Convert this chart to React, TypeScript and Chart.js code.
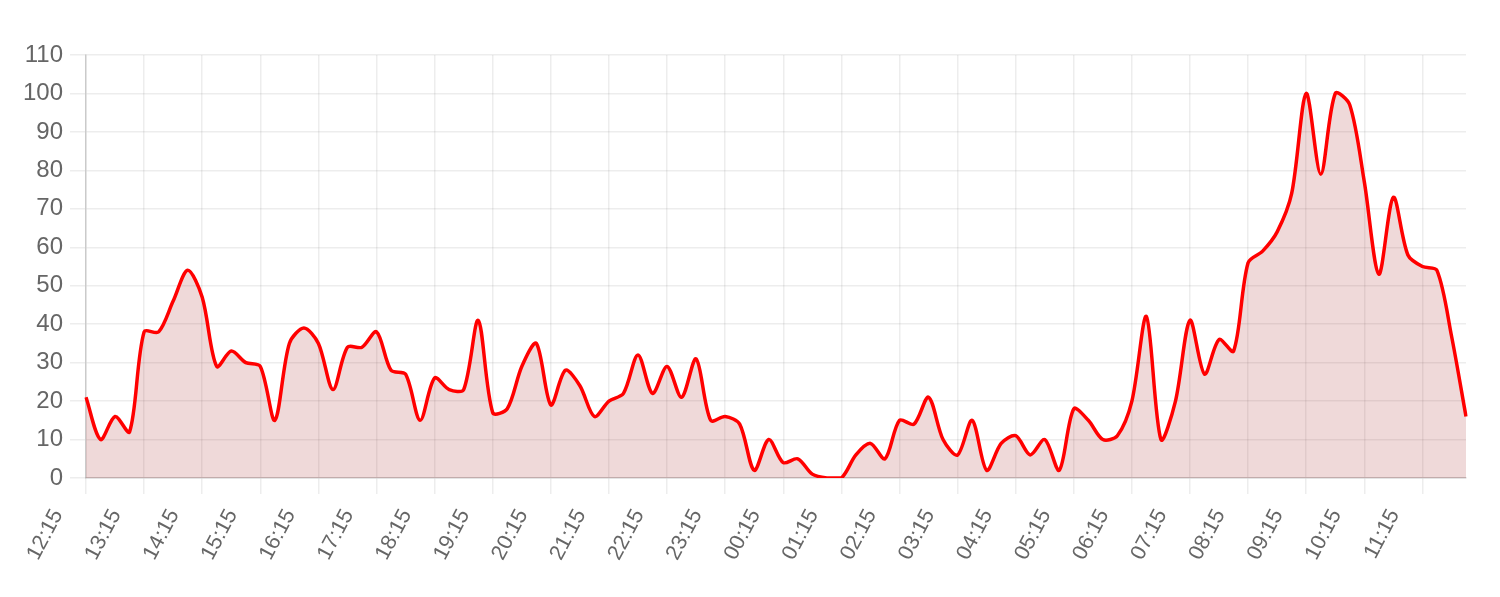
import React, { useEffect, useRef } from "react";
import { Chart, registerables } from "chart.js";

Chart.register(...registerables);

const timeLabels: string[] = [
  "12:15","12:30","12:45","13:00","13:15","13:30","13:45","14:00",
  "14:15","14:30","14:45","15:00","15:15","15:30","15:45","16:00",
  "16:15","16:30","16:45","17:00","17:15","17:30","17:45","18:00",
  "18:15","18:30","18:45","19:00","19:15","19:30","19:45","20:00",
  "20:15","20:30","20:45","21:00","21:15","21:30","21:45","22:00",
  "22:15","22:30","22:45","23:00","23:15","23:30","23:45","00:00",
  "00:15","00:30","00:45","01:00","01:15","01:30","01:45","02:00",
  "02:15","02:30","02:45","03:00","03:15","03:30","03:45","04:00",
  "04:15","04:30","04:45","05:00","05:15","05:30","05:45","06:00",
  "06:15","06:30","06:45","07:00","07:15","07:30","07:45","08:00",
  "08:15","08:30","08:45","09:00","09:15","09:30","09:45","10:00",
  "10:15","10:30","10:45","11:00","11:15","11:30","11:45","12:00",
];

const values: number[] = [
  21, 10, 16, 12, 38, 38, 46, 54,
  47, 29, 33, 30, 29, 15, 35, 39,
  35, 23, 34, 34, 38, 28, 27, 15,
  26, 23, 23, 41, 17, 18, 29, 35,
  19, 28, 24, 16, 20, 22, 32, 22,
  29, 21, 31, 15, 16, 14, 2, 10,
  4, 5, 1, 0, 0, 6, 9, 5,
  15, 14, 21, 10, 6, 15, 2, 9,
  11, 6, 10, 2, 18, 15, 10, 11,
  20, 42, 10, 20, 41, 27, 36, 33,
  56, 59, 64, 74, 100, 79, 100, 97,
  77, 53, 73, 58, 55, 54, 37, 16,
];

const yMin = 0;
const yMax = 110;
const yStep = 10;
const labelEvery = 4;

export default function App() {
  const canvasRef = useRef<HTMLCanvasElement | null>(null);

  useEffect(() => {
    const canvas = canvasRef.current;
    if (!canvas) return;
    const family = "'Liberation Sans', Arial, sans-serif";
    const chart = new Chart(canvas, {
      type: "line",
      data: {
        labels: timeLabels,
        datasets: [
          {
            data: values,
            borderColor: "#ff0000",
            backgroundColor: "rgba(150,0,0,0.15)",
            borderWidth: 3.5,
            fill: "origin",
            tension: 0.3,
            pointRadius: 0,
            pointHoverRadius: 0,
          },
        ],
      },
      options: {
        animation: false,
        responsive: false,
        maintainAspectRatio: false,
        layout: { padding: { top: 55, right: 34, left: 0, bottom: 0 } },
        plugins: { legend: { display: false }, tooltip: { enabled: false } },
        scales: {
          x: {
            type: "category",
            offset: false,
            grid: {
              color: "rgba(0,0,0,0.07)",
              lineWidth: 1.5,
              tickLength: 16,
            },
            border: { color: "rgba(0,0,0,0.15)", width: 1.5 },
            ticks: {
              autoSkip: false,
              maxRotation: 62,
              minRotation: 62,
              padding: 11,
              labelOffset: -28,
              color: "#666",
              font: { family, size: 21.5 },
              callback: (_v: any, idx: number) =>
                idx % labelEvery === 0 ? timeLabels[idx] : null,
            },
            afterFit: (scale: any) => {
              scale.height = 119;
            },
          },
          y: {
            min: yMin,
            max: yMax,
            grid: {
              color: "rgba(0,0,0,0.07)",
              lineWidth: 1.5,
              tickLength: 16,
            },
            border: { color: "rgba(0,0,0,0.15)", width: 1.5 },
            ticks: {
              stepSize: yStep,
              padding: 7,
              color: "#666",
              font: { family, size: 24 },
            },
            afterFit: (scale: any) => {
              scale.width = 86;
            },
          },
        },
      },
    });
    return () => chart.destroy();
  }, []);

  return (
    <div style={{ position: "fixed", left: 0, top: 0, width: 1500, height: 597, background: "#fff" }}>
      <canvas ref={canvasRef} width={1500} height={597} style={{ width: 1500, height: 597 }} />
    </div>
  );
}
